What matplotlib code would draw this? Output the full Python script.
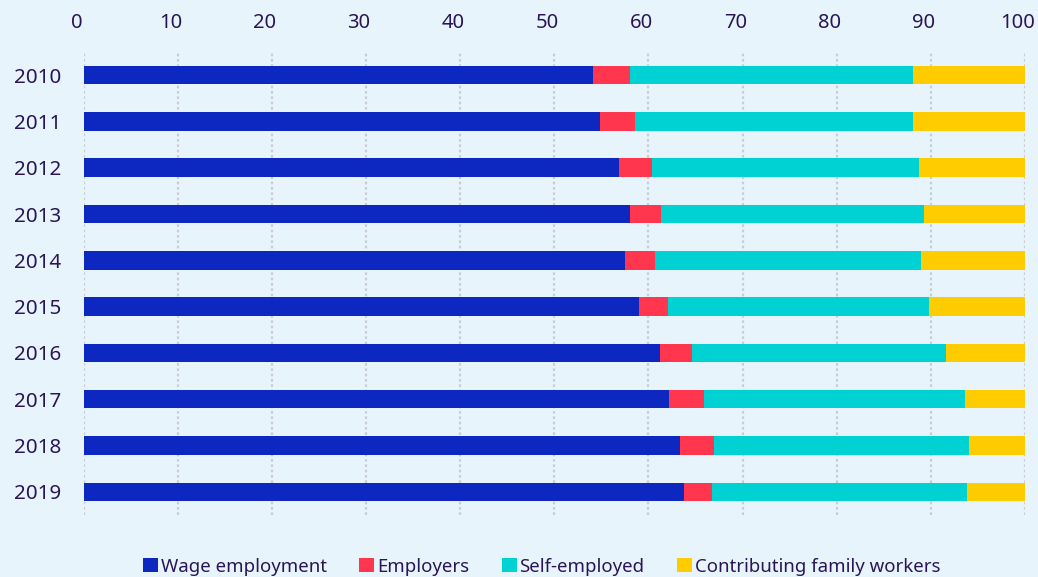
import matplotlib
matplotlib.use("Agg")
import matplotlib.pyplot as plt
import matplotlib.transforms as mtransforms
from matplotlib.patches import Patch
import numpy as np

plt.rcParams['font.family'] = ['Noto Sans', 'DejaVu Sans']

years = ['2010', '2011', '2012', '2013', '2014', '2015', '2016', '2017', '2018', '2019']
wage = [54.1, 54.9, 56.9, 58.0, 57.5, 59.0, 61.2, 62.2, 63.4, 63.8]
employers = [3.9, 3.7, 3.5, 3.3, 3.2, 3.1, 3.4, 3.7, 3.6, 3.0]
self_employed = [30.1, 29.5, 28.3, 28.0, 28.3, 27.7, 27.0, 27.7, 27.0, 27.0]
family = [11.9, 11.9, 11.3, 10.7, 11.0, 10.2, 8.4, 6.4, 6.0, 6.2]

series = [
    ('Wage employment', wage, '#0D28C0'),
    ('Employers', employers, '#FF364D'),
    ('Self-employed', self_employed, '#00D2D4'),
    ('Contributing family workers', family, '#FFCC00'),
]

bg = '#E8F4FC'
txt = '#2A1655'

fig = plt.figure(figsize=(10.38, 5.77), dpi=100, facecolor=bg)
ax = fig.add_axes([0.0806, 0.1075, 0.9069, 0.8024], facecolor=bg)

y = np.arange(len(years))
left = np.zeros(len(years))
for name, vals, color in series:
    ax.barh(y, vals, left=left, height=0.4, color=color, label=name, zorder=2)
    left += np.array(vals)

ax.set_xlim(0, 100)
ax.set_ylim(len(years) - 0.5, -0.5)
ax.set_yticks(y)
ax.set_yticklabels(years)
ax.set_xticks(np.arange(0, 101, 10))
ax.xaxis.tick_top()
ax.tick_params(axis='x', length=0, pad=14, labelsize=14.5, colors=txt)
ax.tick_params(axis='y', length=0, pad=16, labelsize=14.8, colors=txt)

# nudge the top labels a little to the left of their gridlines
shift = mtransforms.ScaledTranslation(-7 / 100, 0, fig.dpi_scale_trans)
for lab in ax.get_xticklabels():
    lab.set_transform(lab.get_transform() + shift)

ax.grid(axis='x', color='#C9CDD2', linestyle=(0, (1.2, 1.2)), linewidth=1.6, zorder=0)
ax.grid(axis='y', visible=False)
for s in ax.spines.values():
    s.set_visible(False)

handles = [Patch(facecolor=c, edgecolor='none', label=n) for n, _, c in series]
fig.legend(handles=handles, loc='lower center', ncol=4, frameon=False,
           bbox_to_anchor=(0.522, -0.027), fontsize=13.4, labelcolor=txt,
           handlelength=0.8, handleheight=0.8, handletextpad=0.15, columnspacing=1.75)

fig.savefig('out.png', dpi=100, facecolor=bg)
